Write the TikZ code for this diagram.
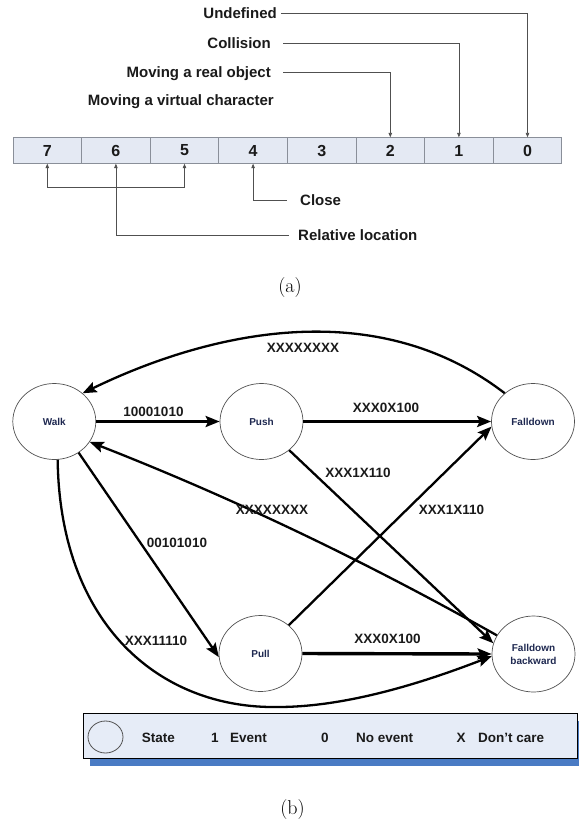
\documentclass[tikz,border=0pt]{standalone}
\usepackage{fontspec}
\newfontfamily\lsans{Liberation Sans}
\usetikzlibrary{shapes.geometric,arrows.meta}
\definecolor{cellfill}{HTML}{E4E9F3}
\definecolor{cellline}{HTML}{8A8F99}
\definecolor{linegray}{HTML}{505050}
\definecolor{labgray}{HTML}{1A1A1A}
\definecolor{circgray}{HTML}{505050}
\definecolor{navy}{HTML}{1E2850}
\definecolor{legfill}{HTML}{E6ECF7}
\definecolor{legshadow}{HTML}{4A7BC4}
\begin{document}
\begin{tikzpicture}[x=1pt,y=-1pt,
  lbl/.style={font=\lsans\bfseries\fontsize{15}{18}\selectfont, text=labgray, inner sep=0, text height=10.8pt, text depth=0pt},
  cell/.style={draw=cellline, fill=cellfill, line width=0.8pt, minimum width=68.6pt, minimum height=25.5pt, inner sep=0, font=\lsans\bfseries\fontsize{16}{19}\selectfont, text=labgray},
  la/.style={draw=linegray, line width=0.8pt},
  latip/.style={-{Triangle[length=4.5pt,width=3.5pt]}},
  state/.style={ellipse, draw=circgray, line width=0.7pt, minimum width=83pt, minimum height=76pt, inner sep=0, font=\lsans\bfseries\fontsize{10}{13}\selectfont, text=navy, align=center},
  tr/.style={line width=2.3pt, -{Stealth[length=14pt,width=11pt,inset=2.5pt]}},
  thk/.style={tr, line width=3.4pt},
  elab/.style={font=\lsans\bfseries\fontsize{13.5}{16}\selectfont, inner sep=0, text=labgray},
  leg/.style={font=\lsans\bfseries\fontsize{13.5}{16}\selectfont, inner sep=0, text height=9.7pt, text depth=0pt, text=labgray},
  captext/.style={font=\fontsize{20}{24}\selectfont, inner sep=0}
]
\useasboundingbox (0,0) rectangle (579,823);

% ---------- (a) ----------
\foreach \b [count=\i from 0] in {7,6,5,4,3,2,1,0}
  \node[cell] (c\b) at ({47.3+68.6*\i},150.5) {\b};

\node[lbl, anchor=east] (undef) at (277,13) {Undefined};
\node[lbl, anchor=east] (coll) at (271,43) {Collision};
\node[lbl, anchor=east] (real) at (271,72) {Moving a real object};
\node[lbl, anchor=east] (virt) at (274,100) {Moving a virtual character};
\node[lbl, anchor=west] (close) at (300,200) {Close};
\node[lbl, anchor=west] (rel) at (298,235) {Relative location};

\draw[la, latip] ([xshift=4pt]undef.east) -| (c0.north);
\draw[la, latip] ([xshift=12pt]coll.east) -| (c1.north);
\draw[la, latip] ([xshift=12pt]real.east) -| (c2.north);
\draw[la, {Triangle[length=4.5pt,width=3.5pt]}-{Triangle[length=4.5pt,width=3.5pt]}] (c7.south) -- ++(0,24) -| (c5.south);
\draw[la, {Triangle[length=4.5pt,width=3.5pt]}-] (c6.south) |- ([xshift=-9pt]rel.west);
\draw[la, {Triangle[length=4.5pt,width=3.5pt]}-] (c4.south) |- ([xshift=-13pt]close.west);

\node[captext] (capa) at (290,288) {(a)};

% ---------- (b) ----------
\node[state] (walk) at (54.3,421.5) {Walk};
\node[state] (push) at (261.5,421.5) {Push};
\node[state] (fd) at (533,421.5) {Falldown};
\node[state] (pull) at (260.5,653.5) {Pull};
\node[state] (fb) at (533.5,654) {Falldown\\backward};

\coordinate (low) at (278,707);

\draw[tr] (fd.135) .. controls (374,292.7) and (206.6,333) .. (walk.45);
\draw[thk] (walk.east) -- (push.west);
\draw[thk] (push.east) -- (fd.west);
\draw[tr] (push.-46) -- (fb.165);
\draw[tr] (pull.45) -- (fd.187);
\draw[tr] (fb.153) .. controls (365.6,561.4) and (231.6,497.4) .. (walk.-30);
\draw[tr] (walk.-52) -- (pull.185);
\draw[tr] (walk.-85) .. controls (60,625) and (160,709) .. (low) .. controls (350,707) and (430,680) .. (fb.183);
\draw[thk] (pull.east) -- (fb.west);

\node[elab] (l1) at (303,348) {XXXXXXXX};
\node[elab] (l2) at (153.5,412) {10001010};
\node[elab] (l3) at (386,408) {XXX0X100};
\node[elab] (l4) at (358,473) {XXX1X110};
\node[elab] (l5) at (272,510) {XXXXXXXX};
\node[elab] (l6) at (451.5,510) {XXX1X110};
\node[elab] (l7) at (177,543) {00101010};
\node[elab] (l8) at (156,641) {XXX11110};
\node[elab] (l9) at (387.5,639) {XXX0X100};

% legend
\fill[legshadow] (89.5,721) rectangle (590,766);
\node[draw=black, fill=legfill, line width=0.9pt, minimum width=493.7pt, minimum height=45pt, inner sep=0] (legbox) at (330.15,735.5) {};
\node[ellipse, draw=circgray, line width=0.8pt, minimum width=35pt, minimum height=32pt, inner sep=0] (legstate) at (105.5,737) {};
\node[leg, anchor=west] (t1) at (141.7,738) {State};
\node[leg] (t2) at (215,738) {1};
\node[leg, anchor=west] (t3) at (230,738) {Event};
\node[leg] (t4) at (325,738) {0};
\node[leg, anchor=west] (t5) at (356,738) {No event};
\node[leg] (t6) at (461,738) {X};
\node[leg, anchor=west] (t7) at (478,738) {Don’t care};

\node[captext] (capb) at (292.5,809) {(b)};
\end{tikzpicture}
\end{document}
